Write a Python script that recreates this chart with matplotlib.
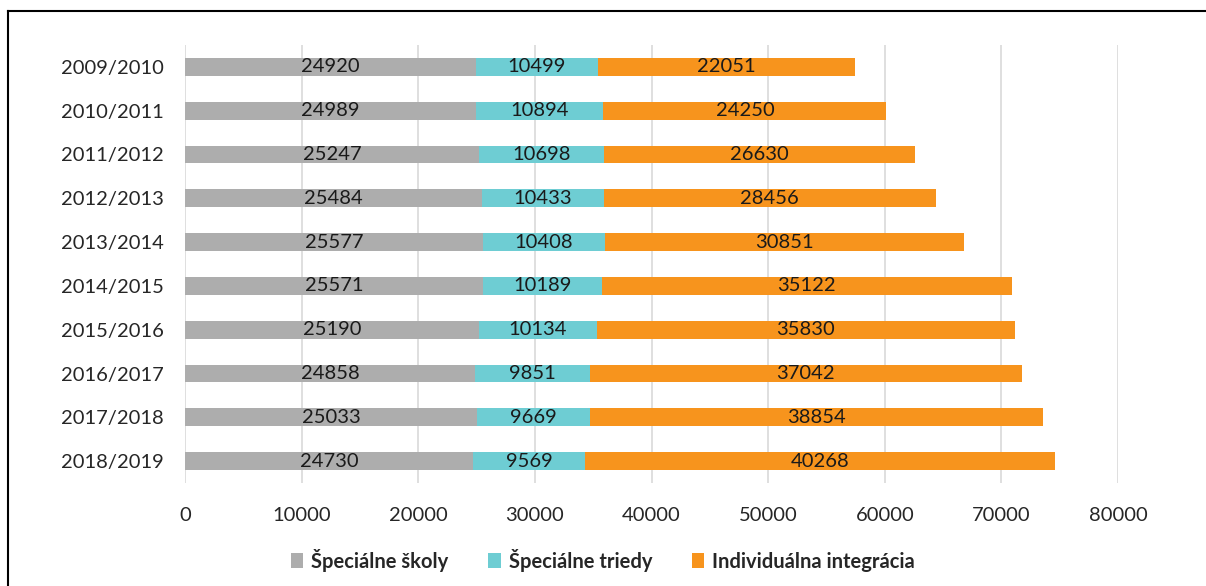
import matplotlib
matplotlib.use("Agg")
import matplotlib.pyplot as plt
from matplotlib.lines import Line2D
import numpy as np

plt.rcParams['font.family'] = ['Lato', 'DejaVu Sans']

years = ['2009/2010', '2010/2011', '2011/2012', '2012/2013', '2013/2014',
         '2014/2015', '2015/2016', '2016/2017', '2017/2018', '2018/2019']
skoly = [24920, 24989, 25247, 25484, 25577, 25571, 25190, 24858, 25033, 24730]
triedy = [10499, 10894, 10698, 10433, 10408, 10189, 10134, 9851, 9669, 9569]
integracia = [22051, 24250, 26630, 28456, 30851, 35122, 35830, 37042, 38854, 40268]

series = [('Špeciálne školy', skoly, '#ADADAD'),
          ('Špeciálne triedy', triedy, '#6ECDD3'),
          ('Individuálna integrácia', integracia, '#F7941D')]

fs = 14.5

fig = plt.figure(figsize=(12.06, 5.86), dpi=100)
ax = fig.add_axes([185 / 1206, 1 - 483 / 586, 933 / 1206, 438 / 586])

# frame around the chart: top and left edges
x0, y0 = 8 / 1206, 1 - 11 / 586
fig.lines.append(Line2D([x0, 1.0], [y0, y0], transform=fig.transFigure,
                        color='black', linewidth=1.5))
fig.lines.append(Line2D([x0, x0], [0, y0], transform=fig.transFigure,
                        color='black', linewidth=1.5))

y = np.arange(len(years))
left = np.zeros(len(years))
for name, vals, col in series:
    vals = np.array(vals)
    bars = ax.barh(y, vals, left=left, height=0.41, color=col, label=name, zorder=2)
    ax.bar_label(bars, labels=[str(v) for v in vals], label_type='center',
                 fontsize=fs, color='#1a1a1a')
    left += vals

ax.set_xlim(0, 80000)
ax.set_ylim(len(years) - 0.5, -0.5)
ax.set_xticks(np.arange(0, 80001, 10000))
ax.set_yticks(y)
ax.set_yticklabels(years)
ax.tick_params(axis='both', length=0, labelsize=fs, colors='#262626')
ax.tick_params(axis='x', pad=17)
ax.tick_params(axis='y', pad=15)
ax.grid(axis='x', color='#D9D9D9', linewidth=1.2, zorder=0)
for s in ax.spines.values():
    s.set_visible(False)

leg = fig.legend(loc='center', bbox_to_anchor=(0.5, 1 - 560 / 586), ncol=3,
                 frameon=False, handlelength=0.6, handleheight=0.7,
                 columnspacing=2.0, handletextpad=0.4,
                 prop={'size': fs, 'weight': 'bold'})
for t in leg.get_texts():
    t.set_color('#262626')

fig.savefig('out.png', dpi=100)
